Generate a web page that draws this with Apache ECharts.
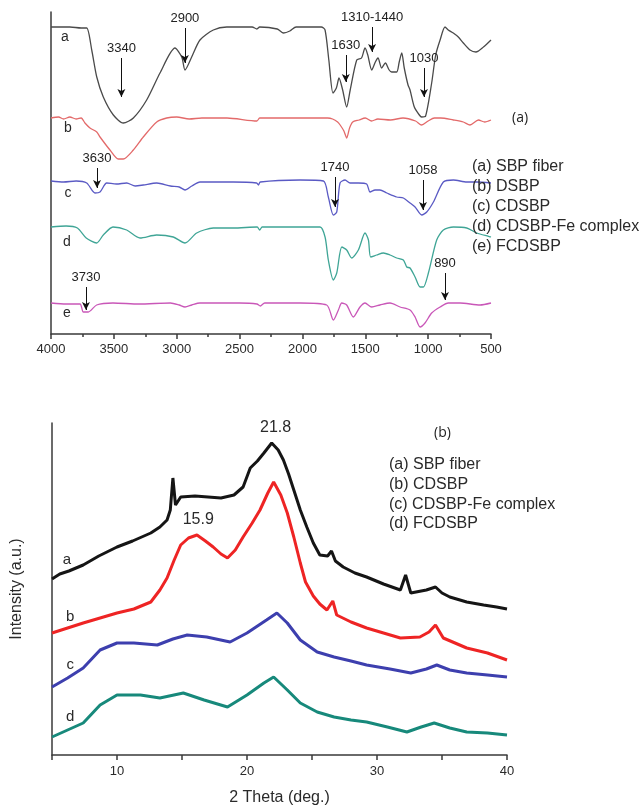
<!DOCTYPE html>
<html>
<head>
<meta charset="utf-8">
<script src="https://cdn.jsdelivr.net/npm/echarts@6/dist/echarts.min.js"></script>
<style>
  html, body { margin: 0; padding: 0; background: #fff; }
  #chart { width: 641px; height: 807px; }
</style>
</head>
<body>
<div id="chart"></div>
<script>
// ---------- (a) FTIR spectra: [wavenumber (cm-1), transmittance (a.u., offset)] ----------
const ftirSbpFiber = [
  [4000,307],[3850,307],[3760,306],[3716,306],[3676,284],[3636,257],[3584,237],[3504,219],
  [3425,211],[3345,216],[3239,234],[3133,261],[3014,286],[2960,277],[2934,264],[2881,277],
  [2815,294],[2709,304],[2602,307],[2400,307],[2362,305],[2340,307],[2200,305],[2150,301],
  [2100,303],[2050,307],[1850,307],[1820,304],[1790,274],[1757,241],[1730,246],[1709,256],
  [1680,244],[1648,227],[1620,244],[1568,274],[1530,276],[1502,286],[1480,279],[1449,264],
  [1420,272],[1399,276],[1370,266],[1340,271],[1310,264],[1290,262],[1250,262],[1230,272],
  [1210,281],[1190,266],[1160,249],[1144,244],[1110,227],[1070,219],[1052,217],[1020,218],
  [972,251],[940,279],[905,294],[866,307],[840,304],[800,301],[760,297],[720,291],
  [667,284],[620,282],[560,287],[500,294]
];
const ftirDsbp = [
  [4000,216],[3940,217],[3900,215],[3850,217],[3800,215],[3760,216],[3730,211],[3690,206],
  [3636,202],[3610,197],[3531,184],[3465,175],[3425,175],[3345,184],[3266,197],[3159,212],
  [3080,216],[3000,217],[2900,215],[2800,216],[2600,216],[2362,213],[2340,216],[2000,216],
  [1800,216],[1760,215],[1720,212],[1700,209],[1670,203],[1648,196],[1625,206],[1600,212],
  [1550,214],[1500,216],[1450,213],[1400,215],[1300,214],[1200,216],[1100,213],[1052,209],
  [1000,213],[950,216],[900,216],[800,214],[720,212],[667,209],[600,214],[550,212],[500,214]
];
const ftirCdsbp = [
  [4000,153],[3900,152],[3800,153],[3716,151],[3650,141],[3610,142],[3557,151],[3480,150],
  [3398,151],[3330,148],[3266,149],[3159,151],[3050,148],[2980,147],[2934,144],[2880,148],
  [2815,152],[2550,152],[2364,151],[2350,149],[2335,152],[2019,154],[1833,153],[1794,137],
  [1754,119],[1727,122],[1701,151],[1661,154],[1621,151],[1555,151],[1489,150],[1462,142],
  [1422,144],[1383,144],[1329,141],[1250,137],[1197,136],[1144,131],[1104,127],[1051,119],
  [1011,122],[958,132],[879,152],[799,154],[693,152],[613,152],[500,151]
];
const ftirCdsbpFe = [
  [4000,107],[3880,108],[3790,106],[3720,96],[3637,91],[3584,99],[3507,107],[3398,104],
  [3292,96],[3160,99],[3027,97],[2934,91],[2841,101],[2709,106],[2550,106],[2360,107],
  [2340,104],[2320,107],[2019,107],[1860,107],[1820,97],[1794,74],[1754,54],[1727,61],
  [1687,87],[1648,84],[1608,76],[1555,84],[1502,101],[1475,94],[1457,77],[1409,79],
  [1356,81],[1303,79],[1250,76],[1197,74],[1170,67],[1144,66],[1104,57],[1064,47],
  [1038,47],[998,61],[932,94],[879,104],[799,107],[693,106],[613,101],[500,97]
];
const ftirFcdsbp = [
  [4000,31],[3880,30],[3769,30],[3743,22],[3703,22],[3637,29],[3507,31],[3300,30],
  [3050,31],[2980,29],[2934,27],[2880,29],[2816,31],[2500,31],[2362,30],[2335,28],
  [2300,31],[2019,31],[1807,29],[1754,14],[1714,24],[1687,31],[1648,29],[1595,17],
  [1542,27],[1502,31],[1449,27],[1383,29],[1303,31],[1223,27],[1144,24],[1104,17],
  [1064,7],[1025,11],[972,21],[905,27],[839,31],[746,31],[587,29],[500,31]
];
const ftirNames = ['(a) SBP fiber', '(b) DSBP', '(c) CDSBP', '(d) CDSBP-Fe complex', '(e) FCDSBP'];
// curve letters: [wavenumber, transmittance, letter]
const ftirLetters = [[3889,297,'a'],[3865,206,'b'],[3865,141,'c'],[3873,92,'d'],[3873,21,'e']];
// band markers: [label, wavenumber, arrow top, arrow tip]
const ftirBands = [
  ['3340', 3440, 276, 237], ['2900', 2935, 306, 271], ['1310-1440', 1446, 307, 282],
  ['1630', 1655, 279, 252], ['1030', 1033, 266, 237], ['3630', 3634, 166, 146],
  ['1740', 1741, 157, 127], ['1058', 1041, 154, 124], ['3730', 3722, 47, 24],
  ['890', 866, 61, 34]
];

// ---------- (b) XRD patterns: [2 theta (deg), intensity (a.u., offset)] ----------
const xrdSbpFiber = [
  [5.0,176],[5.6,181],[6.3,184],[7.4,190],[8.6,199],[10.0,208],[11.2,214],[12.6,222],
  [13.3,228],[13.85,235],[14.1,245],[14.3,277],[14.5,250],[14.9,258],[16.0,259],[17.0,258],
  [18.0,257],[19.0,260],[19.7,268],[20.25,287],[20.8,294],[21.3,302],[21.9,312],[22.4,305],
  [22.8,295],[23.2,281],[23.6,265],[24.1,245],[24.6,228],[25.1,212],[25.6,200],[26.2,199],
  [26.5,204],[26.8,194],[27.4,188],[28.3,182],[29.2,178],[30.5,171],[31.8,165],[32.2,180],
  [32.6,162],[33.8,165],[34.5,168],[35.0,162],[35.6,158],[36.9,153],[38.2,150],[39.2,148],
  [40.0,146]
];
const xrdCdsbp = [
  [5.0,122],[6.2,127],[7.4,132],[8.7,137],[10.0,142],[11.3,146],[12.6,153],[13.3,165],
  [13.85,177],[14.4,195],[14.9,210],[15.5,217],[16.15,220],[16.8,214],[17.4,208],[18.0,201],
  [18.5,197],[19.1,205],[19.7,218],[20.4,232],[21.0,245],[21.6,262],[22.05,273],[22.6,260],
  [23.1,242],[23.6,218],[24.1,192],[24.5,173],[25.1,159],[25.6,151],[26.15,145],[26.6,154],
  [26.9,140],[28.0,133],[29.2,127],[30.5,122],[31.8,117],[33.3,118],[34.0,123],[34.5,130],
  [35.1,117],[36.0,112],[36.9,107],[38.5,102],[40.0,95]
];
const xrdCdsbpFe = [
  [5.0,68],[6.2,77],[7.4,87],[8.7,105],[10.0,112],[11.3,112],[13.1,110],[14.3,116],
  [15.4,120],[16.9,118],[18.7,113],[20.0,122],[21.5,135],[22.3,142],[23.1,132],[24.1,115],
  [25.4,103],[26.7,98],[28.0,94],[29.2,90],[31.0,86],[32.6,82],[33.8,86],[34.6,90],
  [35.6,85],[36.9,82],[38.5,80],[40.0,78]
];
const xrdFcdsbp = [
  [5.0,18],[6.2,25],[7.4,32],[8.7,50],[10.0,60],[11.8,60],[13.3,57],[15.1,62],
  [16.7,55],[18.5,48],[20.0,60],[21.3,72],[22.05,78],[23.1,65],[24.1,52],[25.4,43],
  [26.7,38],[28.0,35],[29.2,33],[30.8,28],[32.3,23],[33.4,28],[34.4,32],[35.6,27],
  [36.9,23],[38.5,22],[40.0,20]
];
const xrdNames = ['(a) SBP fiber', '(b) CDSBP', '(c) CDSBP-Fe complex', '(d) FCDSBP'];
const xrdLetters = [[6.15,195,'a'],[6.4,138,'b'],[6.4,90,'c'],[6.4,38,'d']];
const xrdPeakLabels = [[22.2,327,'21.8'],[16.25,235,'15.9']];

const ftirColors = ['#4a4a4a', '#e36a6a', '#5a5ac4', '#3fa596', '#c957b8'];
const xrdColors = ['#151515', '#ee2424', '#3d3fae', '#17897b'];
const FONT = '"Liberation Sans", Arial, sans-serif';
const AXIS_COLOR = '#3a3a3a';
const TEXT_COLOR = '#2a2a2a';

const chart = echarts.init(document.getElementById('chart'), null, { renderer: 'canvas' });

function lineSeries(name, data, color, axisIdx, width, smooth) {
  return {
    name, type: 'line', data, xAxisIndex: axisIdx, yAxisIndex: axisIdx,
    showSymbol: false, symbol: 'none', smooth: smooth,
    lineStyle: { color, width }, silent: true, z: 2
  };
}
// plain text placed at data coordinates
function textSeries(data, axisIdx, fontSize) {
  return {
    type: 'scatter', xAxisIndex: axisIdx, yAxisIndex: axisIdx, symbolSize: 0, silent: true,
    itemStyle: { opacity: 1 },
    data: data.map(d => ({ value: [d[0], d[1]], name: d[2] })),
    label: { show: true, position: 'inside', formatter: '{b}', color: TEXT_COLOR, opacity: 1, fontSize, fontFamily: FONT },
    z: 5
  };
}

const ftirData = [ftirSbpFiber, ftirDsbp, ftirCdsbp, ftirCdsbpFe, ftirFcdsbp];
const xrdData = [xrdSbpFiber, xrdCdsbp, xrdCdsbpFe, xrdFcdsbp];

const series = [];
ftirData.forEach((d, i) => series.push(lineSeries(ftirNames[i], d, ftirColors[i], 0, 1.3, 0.25)));
// arrows marking the absorption bands
series[0].markLine = {
  silent: true, animation: false,
  symbol: ['none', 'arrow'], symbolSize: [6, 8],
  lineStyle: { color: '#111', width: 1, type: 'solid' },
  label: { show: true, position: 'start', formatter: '{b}', color: '#222', fontSize: 13, fontFamily: FONT, distance: 3 },
  data: ftirBands.map(b => [{ name: b[0], coord: [b[1], b[2]] }, { coord: [b[1], b[3]] }])
};
series.push(textSeries(ftirLetters, 0, 14));
xrdData.forEach((d, i) => series.push(lineSeries(xrdNames[i], d, xrdColors[i], 1, 3, false)));
series.push(textSeries(xrdLetters, 1, 15));
series.push(textSeries(xrdPeakLabels, 1, 16));

const option = {
  animation: false,
  backgroundColor: '#fff',
  textStyle: { fontFamily: FONT },
  title: [
    { text: '(a)', left: 512, top: 111, padding: 0,
      textStyle: { fontFamily: '"Open Sans", sans-serif', fontSize: 14, fontWeight: 'normal', color: '#222' } },
    { text: ftirNames.join('\n'), left: 472, top: 157, padding: 0,
      textStyle: { fontFamily: FONT, fontSize: 16, fontWeight: 'normal', color: TEXT_COLOR, lineHeight: 19.8 } },
    { text: '(b)', left: 434, top: 426, padding: 0,
      textStyle: { fontFamily: '"Open Sans", sans-serif', fontSize: 14, fontWeight: 'normal', color: '#222' } },
    { text: xrdNames.join('\n'), left: 389, top: 455, padding: 0,
      textStyle: { fontFamily: FONT, fontSize: 16, fontWeight: 'normal', color: TEXT_COLOR, lineHeight: 19.7 } }
  ],
  grid: [
    { left: 51, top: 12, width: 440, height: 322 },
    { left: 52, top: 423, width: 455, height: 332 }
  ],
  xAxis: [
    {
      gridIndex: 0, type: 'value', min: 500, max: 4000, interval: 500, inverse: true,
      axisLine: { show: true, lineStyle: { color: AXIS_COLOR, width: 1.5 } },
      axisTick: { show: true, inside: false, length: 5, lineStyle: { color: AXIS_COLOR, width: 1.5 } },
      minorTick: { show: true, splitNumber: 2, length: 3, lineStyle: { color: AXIS_COLOR, width: 1.5 } },
      axisLabel: { fontSize: 13, color: TEXT_COLOR, margin: 9, fontFamily: FONT, formatter: v => String(v) },
      splitLine: { show: false }, minorSplitLine: { show: false }
    },
    {
      gridIndex: 1, type: 'value', min: 5, max: 40, interval: 5,
      axisLine: { show: true, lineStyle: { color: AXIS_COLOR, width: 1.5 } },
      axisTick: { show: true, inside: false, length: 5, lineStyle: { color: AXIS_COLOR, width: 1.5 } },
      axisLabel: { fontSize: 13, color: TEXT_COLOR, margin: 10, fontFamily: FONT,
        formatter: v => (v % 10 === 0 ? String(v) : '') },
      splitLine: { show: false },
      name: '2 Theta (deg.)', nameLocation: 'middle', nameGap: 35,
      nameTextStyle: { fontSize: 16, color: TEXT_COLOR, fontFamily: FONT }
    }
  ],
  yAxis: [
    {
      gridIndex: 0, type: 'value', min: 0, max: 322,
      axisLine: { show: true, onZero: false, lineStyle: { color: AXIS_COLOR, width: 1.5 } },
      axisTick: { show: false }, axisLabel: { show: false }, splitLine: { show: false }
    },
    {
      gridIndex: 1, type: 'value', min: 0, max: 332,
      axisLine: { show: true, onZero: false, lineStyle: { color: AXIS_COLOR, width: 1.5 } },
      axisTick: { show: false }, axisLabel: { show: false }, splitLine: { show: false },
      name: 'Intensity (a.u.)', nameLocation: 'middle', nameGap: 27, nameRotate: 90,
      nameTextStyle: { fontSize: 16, color: TEXT_COLOR, fontFamily: FONT }
    }
  ],
  series
};

chart.setOption(option);
</script>
</body>
</html>
